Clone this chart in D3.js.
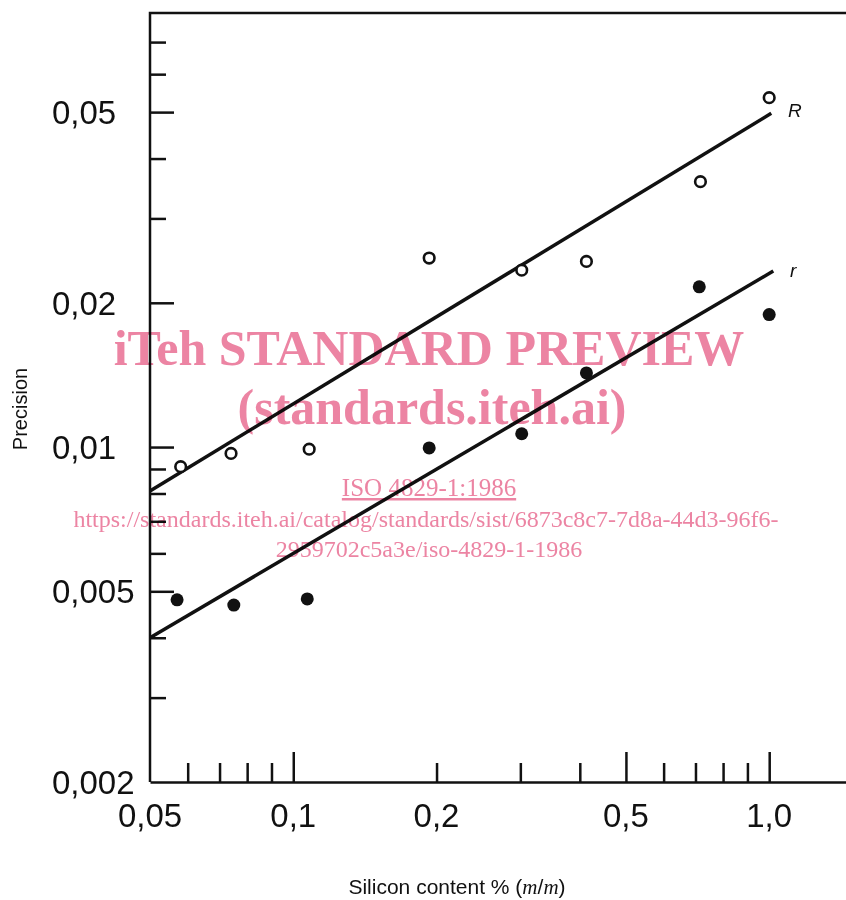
<!DOCTYPE html>
<html>
<head>
<meta charset="utf-8">
<script src="https://cdn.jsdelivr.net/npm/d3@7"></script>
<style>
  body { margin: 0; background: #fff; }
  svg { display: block; }
  .wm { mix-blend-mode: multiply; }
</style>
</head>
<body>
<script>
var width = 846;
var height = 900;

// silicon content % (m/m)
var siliconR = [0.058, 0.074, 0.108, 0.193, 0.302, 0.413, 0.717, 1.0];
var precisionR = [0.0091, 0.0097, 0.0099, 0.0248, 0.0234, 0.0244, 0.0358, 0.0536];
var siliconr = [0.057, 0.075, 0.107, 0.193, 0.302, 0.413, 0.713, 1.0];
var precisionr = [0.0048, 0.00468, 0.00482, 0.00996, 0.01066, 0.01428, 0.0216, 0.0189];

// fitted lines (end points)
var lineRx = [0.05, 1.01];
var lineRy = [0.0081, 0.0497];
var linerx = [0.05, 1.02];
var linery = [0.0040, 0.0233];

var xLabelValues = [0.05, 0.1, 0.2, 0.5, 1.0];
var xLabels = ['0,05', '0,1', '0,2', '0,5', '1,0'];
var xMajorTicks = [0.1, 0.5, 1.0];
var xMinorTicks = [0.06, 0.07, 0.08, 0.09, 0.2, 0.3, 0.4, 0.6, 0.7, 0.8, 0.9];

var yLabelValues = [0.002, 0.005, 0.01, 0.02, 0.05];
var yLabels = ['0,002', '0,005', '0,01', '0,02', '0,05'];
var yMajorTicks = [0.005, 0.01, 0.02, 0.05];
var yMinorTicks = [0.003, 0.004, 0.006, 0.007, 0.008, 0.009, 0.03, 0.04, 0.06, 0.07];

var svg = d3.select('body').append('svg')
    .attr('width', width)
    .attr('height', height);

var x = d3.scaleLog().domain([0.05, 1.45]).range([150, 846]);
var y = d3.scaleLog().domain([0.002, 0.0805]).range([782, 13]);

var ink = '#111';
var sans = '"Liberation Sans", Arial, sans-serif';

// frame: left axis + top line
svg.append('path')
    .attr('d', 'M' + x(0.05) + ',' + y(0.002) + 'V' + y.range()[1] + 'H' + x.range()[1])
    .attr('fill', 'none')
    .attr('stroke', ink)
    .attr('stroke-width', 2.5);

// x axis ticks (pointing up)
svg.append('g')
    .attr('transform', 'translate(0,' + y(0.002) + ')')
    .call(d3.axisBottom(x).tickValues(xMinorTicks).tickSizeInner(-19).tickSizeOuter(0).tickFormat(''))
    .call(function(g) { g.select('.domain').attr('stroke-width', 2.5).attr('stroke', ink); });
svg.append('g')
    .attr('transform', 'translate(0,' + y(0.002) + ')')
    .call(d3.axisBottom(x).tickValues(xMajorTicks).tickSizeInner(-30).tickSizeOuter(0).tickFormat(''))
    .call(function(g) { g.select('.domain').remove(); });

// y axis ticks (pointing right)
svg.append('g')
    .attr('transform', 'translate(' + x(0.05) + ',0)')
    .call(d3.axisLeft(y).tickValues(yMinorTicks).tickSizeInner(-16).tickSizeOuter(0).tickFormat(''))
    .call(function(g) { g.select('.domain').remove(); });
svg.append('g')
    .attr('transform', 'translate(' + x(0.05) + ',0)')
    .call(d3.axisLeft(y).tickValues(yMajorTicks).tickSizeInner(-24).tickSizeOuter(0).tickFormat(''))
    .call(function(g) { g.select('.domain').remove(); });

svg.selectAll('.tick line').attr('stroke', ink).attr('stroke-width', 2.5);

// tick labels
svg.append('g').selectAll('text')
    .data(xLabelValues)
  .enter().append('text')
    .attr('x', function(d) { return x(d); })
    .attr('y', 827)
    .attr('text-anchor', 'middle')
    .style('font-family', sans)
    .style('font-size', '33px')
    .attr('fill', ink)
    .text(function(d, i) { return xLabels[i]; });

svg.append('g').selectAll('text')
    .data(yLabelValues)
  .enter().append('text')
    .attr('x', 52)
    .attr('y', function(d) { return y(d) + 12; })
    .style('font-family', sans)
    .style('font-size', '33px')
    .attr('fill', ink)
    .text(function(d, i) { return yLabels[i]; });

// axis titles
svg.append('text')
    .attr('transform', 'translate(27,409) rotate(-90)')
    .attr('text-anchor', 'middle')
    .style('font-family', sans)
    .style('font-size', '20px')
    .attr('fill', ink)
    .text('Precision');

var xt = svg.append('text')
    .attr('x', 457)
    .attr('y', 894)
    .attr('text-anchor', 'middle')
    .style('font-family', sans)
    .style('font-size', '21px')
    .attr('fill', ink);
xt.append('tspan').text('Silicon content % (');
xt.append('tspan').style('font-family', '"Liberation Serif", serif').style('font-style', 'italic').text('m');
xt.append('tspan').text('/');
xt.append('tspan').style('font-family', '"Liberation Serif", serif').style('font-style', 'italic').text('m');
xt.append('tspan').text(')');

// fitted lines
var line = d3.line()
    .x(function(d) { return x(d[0]); })
    .y(function(d) { return y(d[1]); });

svg.append('path')
    .datum(d3.zip(lineRx, lineRy))
    .attr('d', line)
    .attr('fill', 'none')
    .attr('stroke', ink)
    .attr('stroke-width', 3.5);
svg.append('path')
    .datum(d3.zip(linerx, linery))
    .attr('d', line)
    .attr('fill', 'none')
    .attr('stroke', ink)
    .attr('stroke-width', 3.5);

// R: open circles
svg.append('g').selectAll('circle')
    .data(d3.zip(siliconR, precisionR))
  .enter().append('circle')
    .attr('cx', function(d) { return x(d[0]); })
    .attr('cy', function(d) { return y(d[1]); })
    .attr('r', 5.3)
    .attr('fill', '#fff')
    .attr('stroke', ink)
    .attr('stroke-width', 2.6);

// r: filled circles
svg.append('g').selectAll('circle')
    .data(d3.zip(siliconr, precisionr))
  .enter().append('circle')
    .attr('cx', function(d) { return x(d[0]); })
    .attr('cy', function(d) { return y(d[1]); })
    .attr('r', 6.5)
    .attr('fill', ink);

// line labels
svg.append('text')
    .attr('x', 788).attr('y', 117)
    .style('font-family', sans).style('font-style', 'italic').style('font-size', '19px')
    .attr('fill', ink).text('R');
svg.append('text')
    .attr('x', 790).attr('y', 277)
    .style('font-family', sans).style('font-style', 'italic').style('font-size', '19px')
    .attr('fill', ink).text('r');

// watermark
var pink = 'rgb(236,132,163)';
var serif = '"Liberation Serif", "Times New Roman", serif';
var wm = svg.append('g').attr('class', 'wm').attr('fill', pink).style('font-family', serif).attr('text-anchor', 'middle');
wm.append('text').attr('x', 429).attr('y', 365).style('font-weight', 'bold').style('font-size', '50px')
    .text('iTeh STANDARD PREVIEW');
wm.append('text').attr('x', 432).attr('y', 424).style('font-weight', 'bold').style('font-size', '50px')
    .text('(standards.iteh.ai)');
wm.append('text').attr('x', 429).attr('y', 496).style('font-size', '25px')
    .style('text-decoration', 'underline')
    .text('ISO 4829-1:1986');
wm.append('text').attr('x', 426).attr('y', 527).style('font-size', '24px')
    .text('https://standards.iteh.ai/catalog/standards/sist/6873c8c7-7d8a-44d3-96f6-');
wm.append('text').attr('x', 429).attr('y', 557).style('font-size', '24px')
    .text('2959702c5a3e/iso-4829-1-1986');
</script>
</body>
</html>
